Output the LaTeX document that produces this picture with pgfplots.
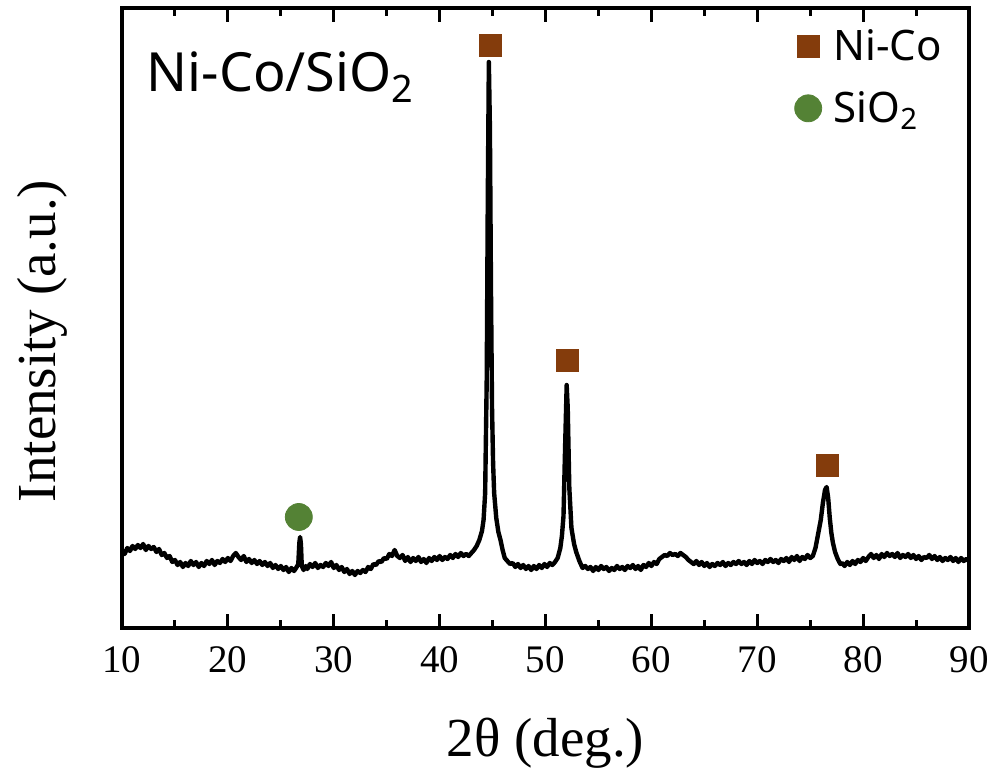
\documentclass[border=0pt]{standalone}
\usepackage{fontspec}
\setmainfont{Liberation Serif}
\newfontfamily\sansf{Noto Sans}
\usepackage{pgfplots}
\pgfplotsset{compat=1.18}
\definecolor{nicobrown}{HTML}{843C0C}
\definecolor{siogreen}{HTML}{548235}
\begin{document}
\begin{tikzpicture}
\begin{axis}[
 scale only axis, width=423.5pt, height=310pt,
 xmin=10, xmax=90, ymin=0, ymax=620,
 xtick={10,20,...,90}, minor x tick num=1,
 ytick=\empty,
 xtick pos=both, tick align=inside,
 major tick length=7pt, minor tick length=4pt,
 every tick/.style={black, line width=1.5pt},
 axis line style={line width=2pt},
 /pgf/number format/assume math mode=true,
 x tick label style={font=\fontsize{19.5}{19.5}\selectfont, anchor=base, yshift=-22.5pt},
 xlabel={2θ (deg.)},
 xlabel style={font=\fontsize{27.5}{27.5}\selectfont, at={(axis description cs:0.5,-0.208)}, anchor=base},
 ylabel={Intensity (a.u.)},
 ylabel style={font=\fontsize{27.5}{27.5}\selectfont, at={(axis description cs:-0.0945,0.463)}, anchor=center},
 legend style={at={(axis cs:73.5,603)}, anchor=north west, draw=none, fill=none,
   font=\sansf\fontsize{21}{21}\selectfont, row sep=10pt, column sep=4pt, inner sep=0pt},
 legend cell align=left,
 legend image code/.code={\draw[#1] plot coordinates {(0pt,0pt)};},
]
\addplot[black, line width=2.2pt, line join=round, forget plot] coordinates {
(10.00,78)(10.25,74)(10.50,80)(10.75,77)(11.00,82)(11.25,79)(11.50,83)(11.75,80)
(12.00,84)(12.25,78)(12.50,82)(12.75,79)(13.00,81)(13.25,76)(13.50,79)(13.75,73)
(14.00,75)(14.25,70)(14.50,72)(14.75,66)(15.00,68)(15.25,63)(15.50,66)(15.75,61)
(16.00,65)(16.25,62)(16.50,67)(16.75,63)(17.00,66)(17.25,61)(17.50,65)(17.75,62)
(18.00,67)(18.25,64)(18.50,68)(18.75,63)(19.00,67)(19.25,65)(19.50,69)(19.75,66)
(20.00,70)(20.25,67)(20.50,72)(20.75,75)(21.00,71)(21.25,68)(21.50,72)(21.75,66)
(22.00,69)(22.25,65)(22.50,68)(22.75,64)(23.00,67)(23.25,63)(23.50,66)(23.75,62)
(24.00,65)(24.25,60)(24.50,63)(24.75,59)(25.00,62)(25.25,58)(25.50,61)(25.75,56)
(26.00,60)(26.25,57)(26.50,61)(26.65,64)(26.75,85)(26.82,91)(26.90,84)(26.98,62)
(27.15,58)(27.35,62)(27.50,59)(27.75,64)(28.00,61)(28.25,65)(28.50,60)(28.75,63)
(29.00,61)(29.25,65)(29.50,62)(29.75,66)(30.00,60)(30.25,63)(30.50,58)(30.75,61)
(31.00,56)(31.25,59)(31.50,54)(31.75,57)(32.00,53)(32.25,57)(32.50,55)(32.75,58)
(33.00,56)(33.25,61)(33.50,59)(33.75,64)(34.00,63)(34.25,67)(34.50,66)(34.75,70)
(35.00,69)(35.25,74)(35.50,72)(35.75,78)(36.00,72)(36.25,70)(36.50,73)(36.75,67)
(37.00,71)(37.25,66)(37.50,70)(37.75,67)(38.00,71)(38.25,66)(38.50,69)(38.75,65)
(39.00,70)(39.25,67)(39.50,71)(39.75,68)(40.00,72)(40.25,68)(40.50,71)(40.75,69)
(41.00,73)(41.25,70)(41.50,74)(41.75,71)(42.00,75)(42.25,72)(42.50,74)(42.75,72)
(43.00,75)(43.25,78)(43.50,82)(43.75,88)(44.00,97)(44.15,108)(44.30,135)(44.45,250)
(44.55,430)(44.65,566)(44.75,500)(44.85,340)(44.95,220)(45.05,165)(45.15,135)(45.35,110)
(45.55,96)(45.75,88)(45.95,78)(46.15,70)(46.40,67)(46.65,64)(46.90,65)(47.15,61)
(47.40,64)(47.65,60)(47.90,63)(48.15,59)(48.40,62)(48.65,58)(48.90,62)(49.15,59)
(49.40,63)(49.65,60)(49.90,64)(50.15,61)(50.40,65)(50.65,63)(50.90,66)(51.15,70)
(51.40,80)(51.55,92)(51.70,112)(51.85,180)(52.00,243)(52.10,220)(52.25,140)(52.45,100)
(52.70,84)(52.90,76)(53.20,67)(53.50,60)(53.75,62)(54.00,59)(54.25,61)(54.50,57)
(54.75,61)(55.00,58)(55.25,62)(55.50,59)(55.75,61)(56.00,57)(56.25,60)(56.50,58)
(56.75,62)(57.00,59)(57.25,61)(57.50,58)(57.75,62)(58.00,60)(58.25,63)(58.50,59)
(58.75,62)(59.00,58)(59.25,63)(59.50,61)(59.75,65)(60.00,62)(60.25,66)(60.50,64)
(60.75,69)(61.00,71)(61.25,73)(61.50,72)(61.75,75)(62.00,73)(62.25,74)(62.50,72)
(62.75,75)(63.00,73)(63.25,71)(63.50,68)(63.75,66)(64.00,64)(64.25,67)(64.50,63)
(64.75,66)(65.00,62)(65.25,65)(65.50,61)(65.75,64)(66.00,62)(66.25,65)(66.50,63)
(66.75,66)(67.00,62)(67.25,65)(67.50,63)(67.75,66)(68.00,64)(68.25,67)(68.50,64)
(68.75,66)(69.00,63)(69.25,67)(69.50,64)(69.75,68)(70.00,65)(70.25,67)(70.50,64)
(70.75,68)(71.00,66)(71.25,69)(71.50,66)(71.75,68)(72.00,65)(72.25,69)(72.50,67)
(72.75,70)(73.00,66)(73.25,71)(73.50,68)(73.75,72)(74.00,67)(74.25,71)(74.50,69)
(74.75,73)(75.00,70)(75.25,72)(75.50,80)(75.75,94)(76.00,108)(76.20,125)(76.40,138)
(76.55,141)(76.70,130)(76.85,110)(77.00,95)(77.15,85)(77.35,76)(77.60,69)(77.85,64)
(78.00,65)(78.25,62)(78.50,66)(78.75,63)(79.00,67)(79.25,64)(79.50,68)(79.75,66)
(80.00,70)(80.25,67)(80.50,71)(80.75,74)(81.00,70)(81.25,73)(81.50,69)(81.75,74)
(82.00,71)(82.25,75)(82.50,72)(82.75,74)(83.00,71)(83.25,75)(83.50,70)(83.75,73)
(84.00,71)(84.25,74)(84.50,70)(84.75,73)(85.00,69)(85.25,72)(85.50,68)(85.75,71)
(86.00,70)(86.25,73)(86.50,69)(86.75,72)(87.00,68)(87.25,71)(87.50,67)(87.75,70)
(88.00,68)(88.25,71)(88.50,67)(88.75,70)(89.00,66)(89.25,70)(89.50,67)(89.75,69)
(90.00,67)};
\addplot[only marks, mark=square*, mark size=5.5pt, color=nicobrown] coordinates {(44.75,583)(52.1,268)(76.6,163)};
\addlegendentry{Ni-Co}
\addplot[only marks, mark=*, mark size=6.75pt, color=siogreen] coordinates {(26.7,111)};
\addlegendentry{SiO\textsubscript{2}}
\node[anchor=base west, font=\sansf\fontsize{27}{27}\selectfont, inner sep=0pt] at (axis cs:12.3,536) {Ni-Co/SiO\textsubscript{2}};
\end{axis}
\pgfresetboundingbox
\useasboundingbox ([shift={(-61pt,-73.5pt)}]current axis.south west) rectangle ([shift={(14pt,4pt)}]current axis.north east);
\end{tikzpicture}
\end{document}
